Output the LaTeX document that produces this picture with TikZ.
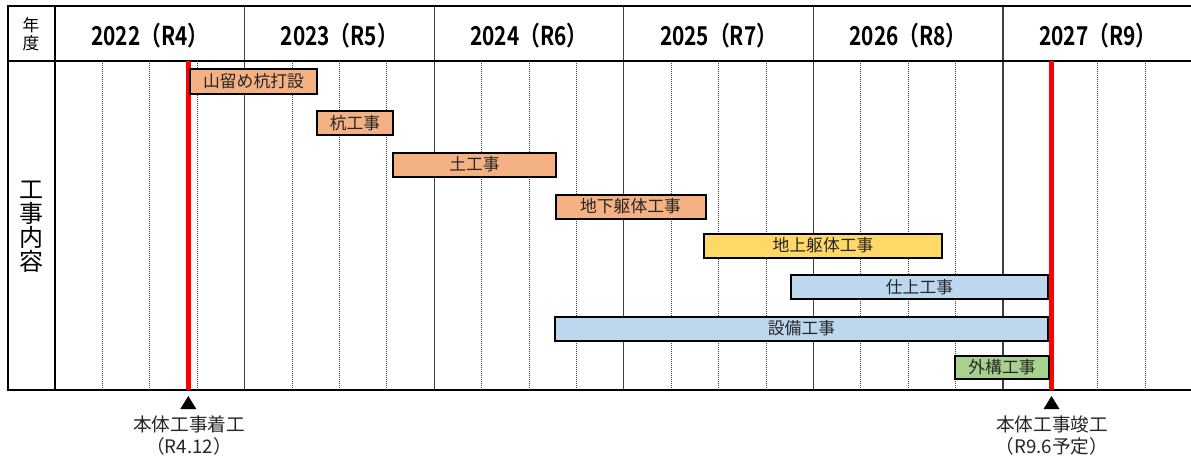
\documentclass[tikz,border=0pt]{standalone}
\usepackage{fontspec}
\setmainfont{Noto Sans CJK JP}
\newfontfamily\jpbold{Noto Sans CJK JP Bold}
\usetikzlibrary{calc}
\definecolor{barorange}{HTML}{F4B183}
\definecolor{baryellow}{HTML}{FFD966}
\definecolor{barblue}{HTML}{BDD7EE}
\definecolor{bargreen}{HTML}{A9D18E}
\definecolor{gridgray}{HTML}{404040}
\tikzset{
  bar/.style={draw=black, line width=1.5pt, inner sep=0pt, outer sep=0pt, font=\fontsize{12.6pt}{14pt}\selectfont, text=black!85},
  frameline/.style={draw=black, line width=0.9pt},
  yearline/.style={draw=gridgray, line width=0.9pt},
  quarterline/.style={draw=black!75, line width=0.6pt, dash pattern=on 0.75pt off 0.75pt},
  milestone/.style={draw=red, line width=3.5pt},
  yeartext/.style={font=\jpbold\fontsize{19.5pt}{20pt}\selectfont},
  bottomtext/.style={font=\fontsize{14pt}{16pt}\selectfont, align=center, text=black!85},
  tri/.style={fill=black}
}
\begin{document}
\begin{tikzpicture}[x=0.75pt, y=-0.75pt]
\useasboundingbox (0,0) rectangle (1191,458);
% year lines and quarter lines
\foreach \i in {0,...,5} {
  \pgfmathsetmacro{\xs}{55+189.6*\i}
  \foreach \q in {1,2,3} {
    \draw[quarterline] (\xs+47.4*\q,61) -- (\xs+47.4*\q,390);
  }
}
\foreach \i in {1,...,5} {
  \draw[yearline] (55+189.6*\i,6) -- (55+189.6*\i,390);
}
% frame
\draw[frameline] (1191,6) -- (8,6) -- (8,390) -- (1191,390);
\draw[frameline] (8,61) -- (1191,61);
\draw[frameline] (55,6) -- (55,390);
% header texts
\node[font=\fontsize{12.5pt}{13.5pt}\selectfont, align=center] (nendo) at (31,34) {年\\度};
\node[font=\fontsize{18pt}{18pt}\selectfont, align=center, inner sep=0pt] (naiyou) at (31.5,226.5) {工\\事\\内\\容};
\node[yeartext] (y2022) at (149.8,36) {\scalebox{0.8}[1]{2022（R4）}};
\node[yeartext] (y2023) at (339.4,36) {\scalebox{0.8}[1]{2023（R5）}};
\node[yeartext] (y2024) at (529.0,36) {\scalebox{0.8}[1]{2024（R6）}};
\node[yeartext] (y2025) at (718.6,36) {\scalebox{0.8}[1]{2025（R7）}};
\node[yeartext] (y2026) at (908.2,36) {\scalebox{0.8}[1]{2026（R8）}};
\node[yeartext] (y2027) at (1097.8,36) {\scalebox{0.8}[1]{2027（R9）}};
% milestone lines
\coordinate (m1top) at (188.3,61);
\coordinate (m1bot) at (188.3,390);
\coordinate (m2top) at (1051.5,61);
\coordinate (m2bot) at (1051.5,390);
\draw[milestone] (m1top) -- (m1bot);
\draw[milestone] (m2top) -- (m2bot);
% bars
\node[bar, fill=barorange, minimum width={127*0.75pt}, minimum height={25*0.75pt}] (b1) at (253.5,81.5) {山留め杭打設};
\node[bar, fill=barorange, minimum width={76*0.75pt}, minimum height={24*0.75pt}] (b2) at (355,123) {杭工事};
\node[bar, fill=barorange, minimum width={163*0.75pt}, minimum height={24*0.75pt}] (b3) at (474.5,164.5) {土工事};
\node[bar, fill=barorange, minimum width={150*0.75pt}, minimum height={24*0.75pt}] (b4) at (630.5,206.5) {地下躯体工事};
\node[bar, fill=baryellow, minimum width={238*0.75pt}, minimum height={24*0.75pt}] (b5) at (823,245.5) {地上躯体工事};
\node[bar, fill=barblue, minimum width={257*0.75pt}, minimum height={24*0.75pt}] (b6) at (919.5,287) {仕上工事};
\node[bar, fill=barblue, minimum width={493*0.75pt}, minimum height={24*0.75pt}] (b7) at (801.5,328.5) {設備工事};
\node[bar, fill=bargreen, minimum width={94*0.75pt}, minimum height={23*0.75pt}] (b8) at (1002,367.5) {外構工事};
% milestone markers
\fill[tri] (188.3,396) -- (180.3,409) -- (196.3,409) -- cycle;
\fill[tri] (1051.5,396) -- (1043.5,409) -- (1059.5,409) -- cycle;
\node[bottomtext] (s1) at (189,435.5) {本体工事着工\\（R4.12）};
\node[bottomtext] (s2) at (1052,435.5) {本体工事竣工\\（R9.6予定）};
\end{tikzpicture}
\end{document}
